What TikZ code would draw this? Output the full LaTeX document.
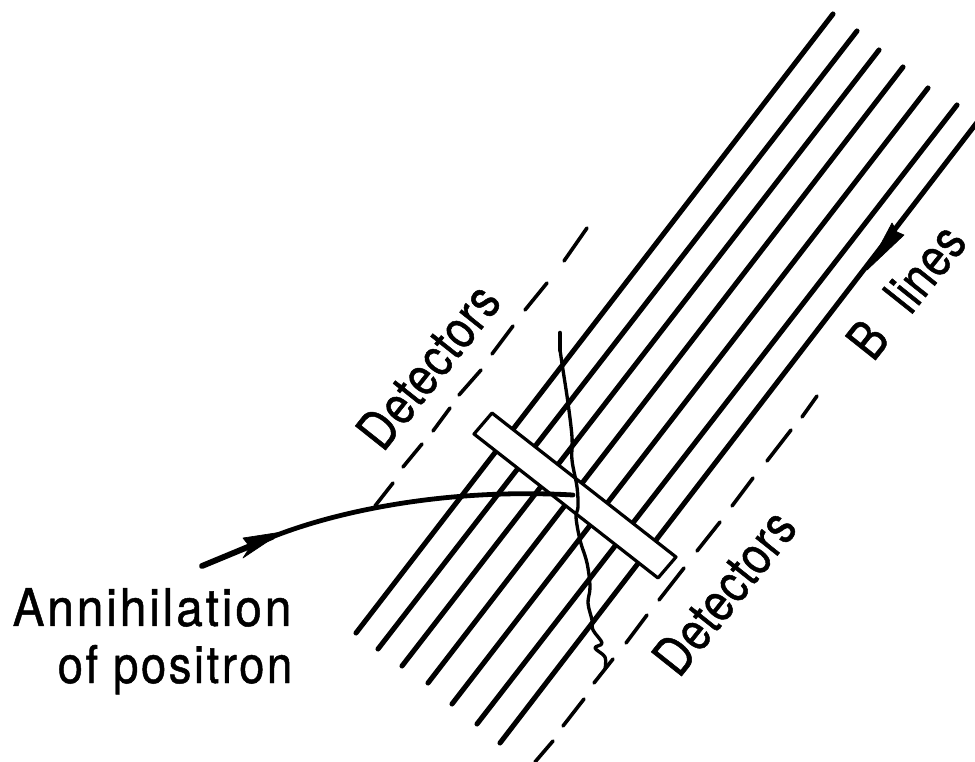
\documentclass[tikz,border=0pt]{standalone}
\usepackage{fontspec}
\setmainfont[LetterSpace=5.5,FakeStretch=0.92,FakeBold=0.9]{TeX Gyre Heros}
\newfontfamily\dfont[LetterSpace=1.5,FakeStretch=0.82,FakeBold=0.9]{TeX Gyre Heros}
\newfontfamily\pfont[LetterSpace=5,FakeStretch=0.87,FakeBold=0.9]{TeX Gyre Heros}
\begin{document}
\begin{tikzpicture}[x=0.75pt,y=-0.75pt,
  fieldline/.style={line width=3.8pt,line cap=round},
  dashline/.style={line width=2.7pt,line cap=round},
  bar/.style={draw,fill=white,line width=2.4pt,line join=round},
  heavy/.style={line width=3.6pt,line cap=round},
  wiggly/.style={line width=2.5pt,line cap=round,line join=round},
  lbl/.style={inner sep=0pt,font=\fontsize{39}{39}\selectfont,anchor=base},
  plbl/.style={inner sep=0pt,font=\pfont\fontsize{39}{39}\selectfont,anchor=base},
  dlbl/.style={inner sep=0pt,font=\dfont\fontsize{40}{40}\selectfont,anchor=base,rotate=51.5},
  head/.style={fill=black,draw=black,line width=0.5pt,line join=round}]
\useasboundingbox (0,0) rectangle (975,762);
\begin{scope}
\clip (0,0) rectangle (975,762);
% B lines
\foreach \a/\b/\c/\d in {356/633/833/14,378/649/857/31,402/666/879/50,428/683/903/67,452/704/928/88,477/724/957/105,500/743/985/112}
  \draw[fieldline] (\a,\b) -- (\c,\d);
\end{scope}
% detector planes
\foreach \a/\b/\c/\d in {375/506/393/483,403/467/422/444,433/431/450/408,459/395/481/370,492/354/513/326,525/310/547/283,564/261/587/228}
  \draw[dashline] (\a,\b) -- (\c,\d);
\foreach \a/\b/\c/\d in {535/762/553/741,563/726/584/699,594/683/613/659,626/643/647/615,659/600/684/568,697/551/720/522,732/506/753/478,767/461/791/430,802/417/817/396}
  \draw[dashline] (\a,\b) -- (\c,\d);
% scintillator bar
\draw[bar] (492,413) -- (676,557) -- (658,578) -- (474,434) -- cycle;
% field arrowhead
\fill[head] (867,270) -- (892,223) -- (897,232) -- (904,235) -- cycle;
% positron
\draw[heavy,line width=4.4pt] (202,566) -- (272,537);
\draw[heavy] (272,537) .. controls (340,510) and (450,488) .. (573,495);
\fill[head] (282,532) -- (243,538) -- (250,547) -- (243,558) -- cycle;
% annihilation radiation track
\draw[wiggly,line width=3.4pt] (560,333) -- (560,350);
\draw[wiggly] plot[smooth,tension=0.6] coordinates {(560,350) (563,370) (568,403) (572,437) (572,460) (577,487) (578,507) (576,517) (580,540) (587,563) (590,587) (588,603) (592,620) (593,630) (602,643) (595,648) (605,657) (605,669)};
% labels
\node[lbl] (ann) at (152,626) {Annihilation};
\node[plbl] (pos) at (175,683) {of positron};
\node[dlbl] (d1) at (443,378) {Detectors};
\node[dlbl] (d2) at (739,604) {Detectors};
\node[dlbl] (bl) at (921,303) {B\,\, lines};
\end{tikzpicture}
\end{document}
